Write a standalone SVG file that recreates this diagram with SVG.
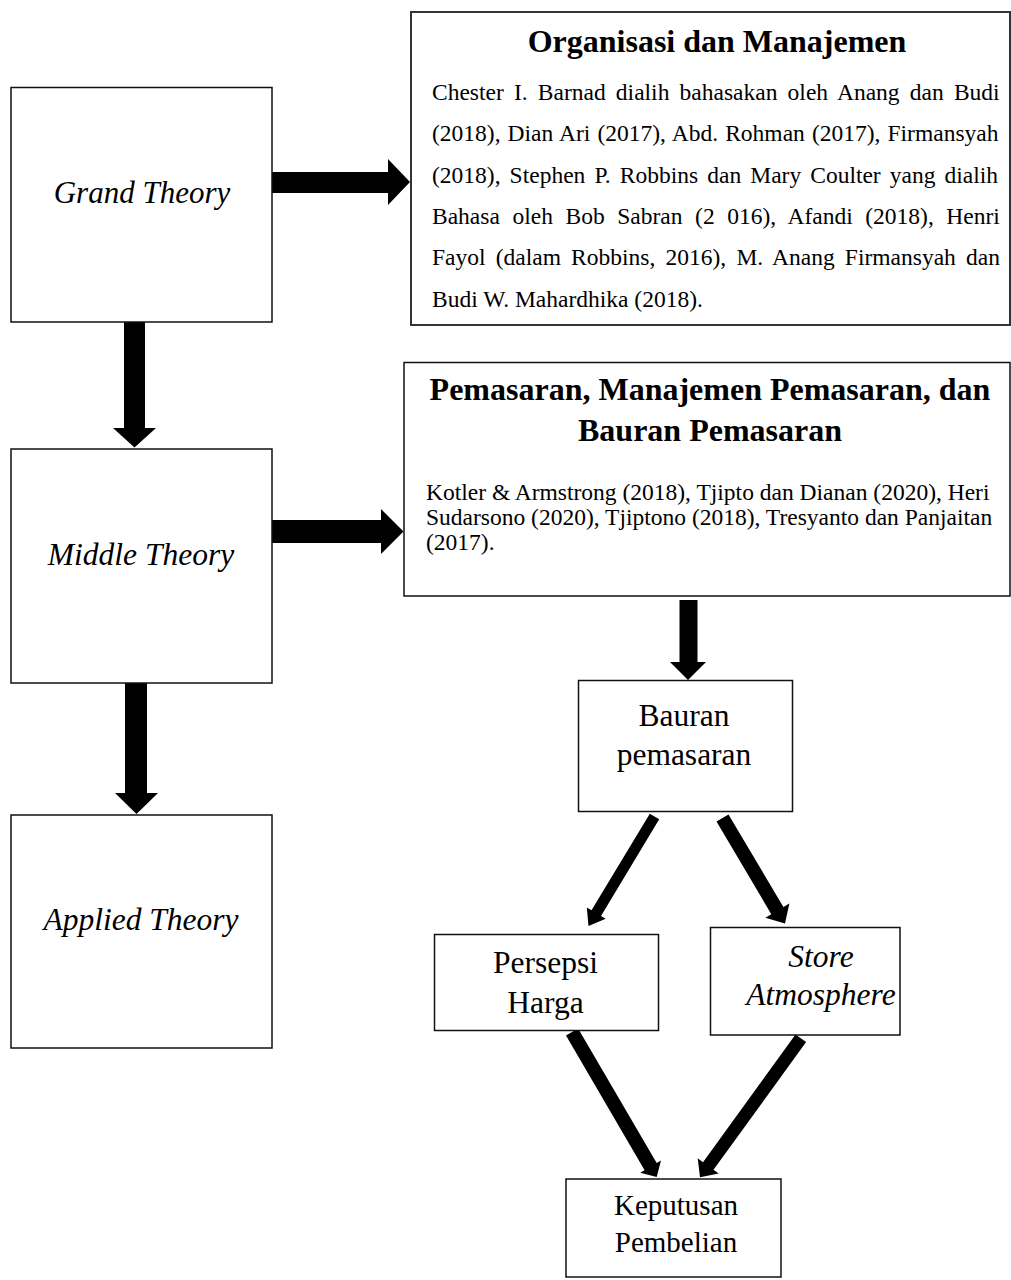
<svg xmlns="http://www.w3.org/2000/svg" width="1011" height="1280" viewBox="0 0 1011 1280">
<style>
.box{fill:#fff;stroke:#111;stroke-width:1.5}
.box2{fill:#fff;stroke:#333;stroke-width:2}
.t{font-family:"Liberation Serif","Times New Roman",serif;fill:#000}
.it{font-style:italic}
.b{font-weight:bold}
.arr{fill:#000;stroke:none}
</style>
<rect width="1011" height="1280" fill="#fff"/>
<g id="connectors">
<polygon class="arr" points="124,321 145,321 145,428 156,428 134.5,447.5 113,428 124,428"/>
<polygon class="arr" points="125,683 147,683 147,793 158,793 136.5,814 115,793 125,793"/>
<polygon class="arr" points="271,172 388,172 388,159 410,182 388,205 388,193 271,193"/>
<polygon class="arr" points="271,520 381,520 381,509 403.5,531.5 381,554 381,543 271,543"/>
<polygon class="arr" points="679.5,600 697.5,600 697.5,662 706,662 688,680 670,662 679.5,662"/>
<polygon class="arr" points="649.8,813.7 591.5,910.3 586.8,907.5 588.5,926 605.7,918.8 601.0,916.0 659.2,819.3"/>
<polygon class="arr" points="716.5,821.6 771.3,914.2 765.3,917.7 785,923.5 789.4,903.5 783.4,907.0 728.5,814.4"/>
<polygon class="arr" points="566.0,1035.5 644.6,1170.2 640.3,1172.7 656.7,1177 661.0,1160.6 656.7,1163.1 578.1,1028.5"/>
<polygon class="arr" points="795.5,1034.5 703.0,1162.2 697.7,1158.3 700,1177.3 718.7,1173.6 713.5,1169.8 806.1,1042.1"/>
</g>
<g id="grand-theory">
<rect class="box" x="11" y="87.5" width="261" height="234.5"/>
<text class="t it" x="142" y="203" font-size="31" text-anchor="middle">Grand Theory</text>
</g>
<g id="middle-theory">
<rect class="box" x="11" y="449" width="261" height="234"/>
<text class="t it" x="141" y="565" font-size="31.5" text-anchor="middle">Middle Theory</text>
</g>
<g id="applied-theory">
<rect class="box" x="11" y="815" width="261" height="233"/>
<text class="t it" x="141" y="930" font-size="31.5" text-anchor="middle">Applied Theory</text>
</g>
<g id="organisasi">
<rect class="box2" x="411" y="12" width="599" height="313"/>
<text class="t b" x="717" y="52" font-size="32" text-anchor="middle">Organisasi dan Manajemen</text>
<g class="t" font-size="23.5">
<text x="432" y="100" word-spacing="4.3">Chester I. Barnad dialih bahasakan oleh Anang dan Budi</text>
<text x="432" y="141.3" word-spacing="1.2">(2018), Dian Ari (2017), Abd. Rohman (2017), Firmansyah</text>
<text x="432" y="182.6" word-spacing="3.2">(2018), Stephen P. Robbins dan Mary Coulter yang dialih</text>
<text x="432" y="223.9" word-spacing="6.7">Bahasa oleh Bob Sabran (2 016), Afandi (2018), Henri</text>
<text x="432" y="265.2" word-spacing="4.3">Fayol (dalam Robbins, 2016), M. Anang Firmansyah dan</text>
<text x="432" y="306.5">Budi W. Mahardhika (2018).</text>
</g>
</g>
<g id="pemasaran">
<rect class="box" x="404" y="362.5" width="606" height="233.5"/>
<text class="t b" x="710" y="400" font-size="32" text-anchor="middle">Pemasaran, Manajemen Pemasaran, dan</text>
<text class="t b" x="710" y="441" font-size="32" text-anchor="middle">Bauran Pemasaran</text>
<g class="t" font-size="23.5">
<text x="426" y="500">Kotler &amp; Armstrong (2018), Tjipto dan Dianan (2020), Heri</text>
<text x="426" y="525">Sudarsono (2020), Tjiptono (2018), Tresyanto dan Panjaitan</text>
<text x="426" y="550">(2017).</text>
</g>
</g>
<g id="bauran">
<rect class="box" x="578.5" y="680.5" width="214" height="131"/>
<text class="t" x="684" y="726" font-size="31.5" text-anchor="middle">Bauran</text>
<text class="t" x="684" y="765" font-size="31.5" text-anchor="middle">pemasaran</text>
</g>
<g id="persepsi">
<rect class="box" x="434.5" y="934.5" width="224" height="96"/>
<text class="t" x="545.5" y="973" font-size="31.5" text-anchor="middle">Persepsi</text>
<text class="t" x="545.5" y="1013" font-size="31.5" text-anchor="middle">Harga</text>
</g>
<g id="store">
<rect class="box" x="710.5" y="927.5" width="189.5" height="107.5"/>
<text class="t it" x="821" y="967" font-size="31.5" text-anchor="middle">Store</text>
<text class="t it" x="821" y="1005" font-size="31.5" text-anchor="middle">Atmosphere</text>
</g>
<g id="keputusan">
<rect class="box" x="566" y="1179" width="215" height="98"/>
<text class="t" x="676" y="1215" font-size="29" text-anchor="middle">Keputusan</text>
<text class="t" x="676" y="1252" font-size="29" text-anchor="middle">Pembelian</text>
</g>
</svg>
